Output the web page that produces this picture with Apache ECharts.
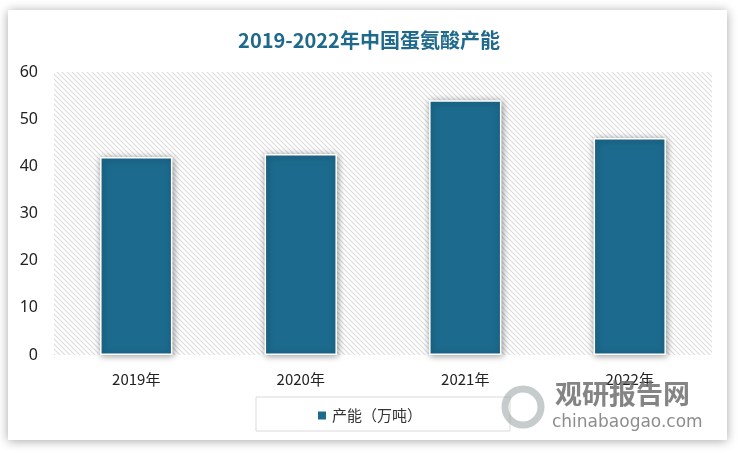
<!DOCTYPE html>
<html><head><meta charset="utf-8">
<script src="https://cdn.jsdelivr.net/npm/echarts@6/dist/echarts.min.js"></script>
<style>html,body{margin:0;padding:0;background:#fff;}#c{width:738px;height:453px;}</style>
</head><body><div id="c"></div>
<script>
const categories = ['2019年','2020年','2021年','2022年'];
const capacity = [42, 42.6, 54, 46];
const yTicks = [0,10,20,30,40,50,60];
const seriesName = '产能（万吨）';

const pc = document.createElement('canvas');
pc.width = 5; pc.height = 5;
const g = pc.getContext('2d');
g.fillStyle = '#ffffff'; g.fillRect(0,0,5,5);
g.strokeStyle = '#dcdcdc'; g.lineWidth = 1.1;
g.beginPath();
g.moveTo(-1,-1); g.lineTo(6,6);
g.moveTo(-4,1); g.lineTo(4,9);
g.moveTo(1,-4); g.lineTo(9,4);
g.stroke();

const chart = echarts.init(document.getElementById('c'));
chart.setOption({
  backgroundColor: '#ffffff',
  title: {
    text: '2019-2022年中国蛋氨酸产能', left: 'center', top: 25,
    textStyle: { color: '#1F6A8C', fontSize: 20, fontWeight: 'bold', fontFamily: 'Noto Sans CJK SC' }
  },
  graphic: [
    { type: 'rect', z: -10, shape: { x: 8, y: 10, width: 719, height: 430 },
      style: { fill: '#fff', shadowBlur: 10, shadowColor: 'rgba(0,0,0,0.35)', shadowOffsetX: 0, shadowOffsetY: 1 } },
    { type: 'rect', z: 1, shape: { x: 256, y: 397, width: 254, height: 34 },
      style: { fill: 'rgba(0,0,0,0)', stroke: '#d9d9d9', lineWidth: 1 } },
    { type: 'text', z: 20, left: 555, top: 380,
      style: { text: '观研报告网', fill: 'rgba(110,110,110,0.85)', font: 'bold 27px "Noto Sans CJK SC"' } },
    { type: 'text', z: 20, left: 552, top: 414,
      style: { text: 'chinabaogao.com', fill: 'rgba(120,120,120,0.85)', font: '17px "DejaVu Sans"' } },
    { type: 'circle', z: 19, shape: { cx: 523, cy: 407, r: 18 },
      style: { fill: 'none', stroke: 'rgba(160,170,170,0.6)', lineWidth: 7 } }
  ],
  legend: {
    data: [seriesName], left: 'center', top: 403, itemWidth: 10, itemHeight: 10, icon: 'rect',
    textStyle: { fontSize: 15, color: '#333', fontFamily: 'Noto Sans CJK SC' }
  },
  grid: {
    left: 54, right: 26, top: 72, bottom: 98, show: true, borderWidth: 0,
    backgroundColor: { image: pc, repeat: 'repeat' }
  },
  xAxis: {
    type: 'category', data: categories,
    axisLine: { show: false }, axisTick: { show: false },
    axisLabel: { fontSize: 15, color: '#222', margin: 17, fontFamily: 'Noto Sans CJK SC' }
  },
  yAxis: {
    type: 'value', min: 0, max: 60, interval: 10,
    splitLine: { show: false }, axisLine: { show: false }, axisTick: { show: false },
    axisLabel: { fontSize: 16, color: '#222', margin: 16, fontFamily: 'Noto Sans',
      formatter: v => yTicks.includes(v) ? String(v) : '' }
  },
  series: [{
    name: seriesName, type: 'bar', data: capacity, barWidth: '44%',
    itemStyle: { color: '#1C6B8E', borderColor: '#fff', borderWidth: 1.5,
      shadowBlur: 7, shadowColor: 'rgba(0,0,0,0.45)', shadowOffsetX: 1, shadowOffsetY: 1 }
  }]
});
</script></body></html>
